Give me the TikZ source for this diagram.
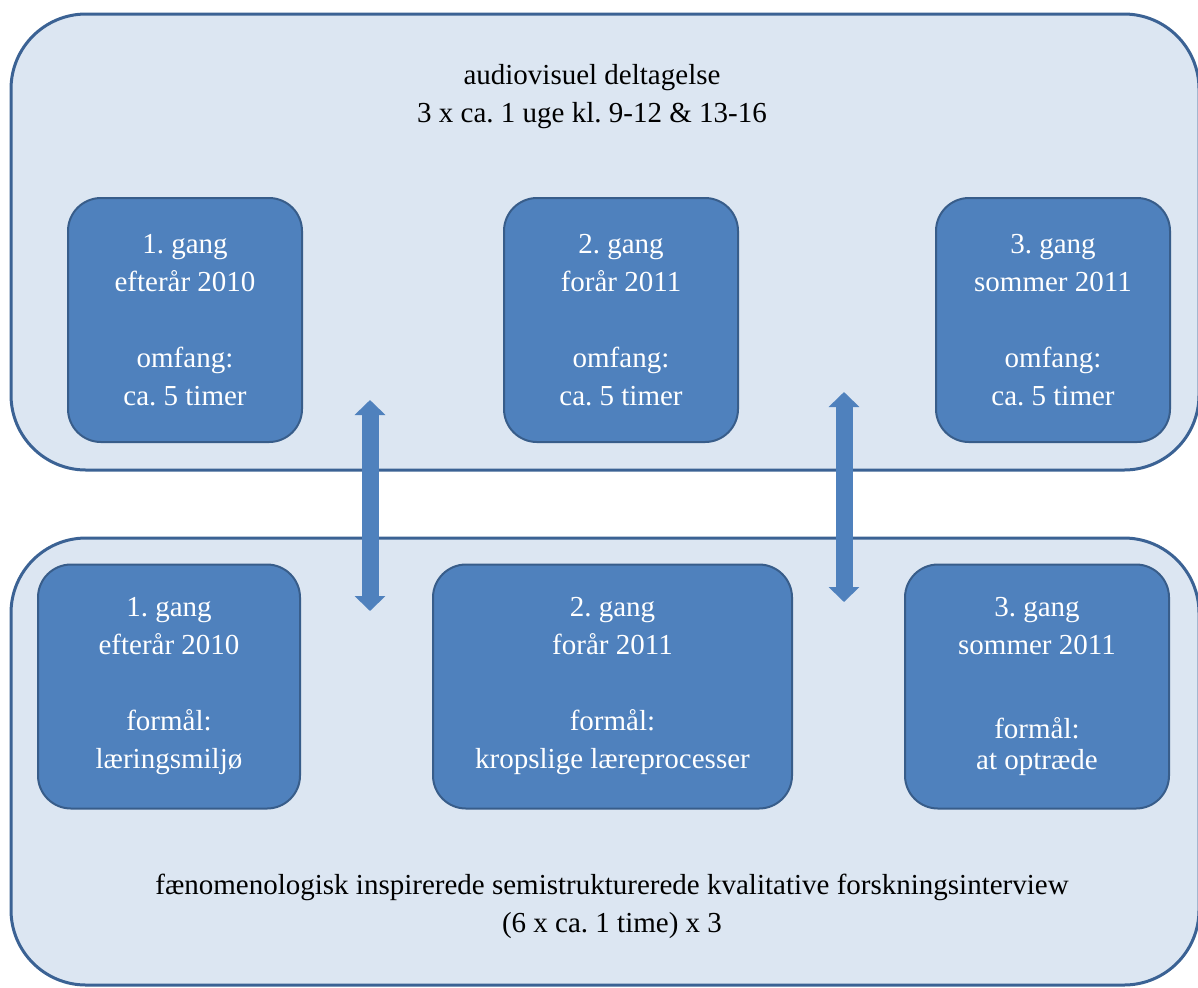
\documentclass[tikz,border=0pt]{standalone}
\usepackage{fontspec}
\setmainfont{Liberation Serif}
\usetikzlibrary{positioning, arrows.meta}
\definecolor{panelfill}{HTML}{DCE6F2}
\definecolor{paneldraw}{HTML}{3B6294}
\definecolor{boxfill}{HTML}{4F81BD}
\definecolor{boxdraw}{HTML}{385D8A}
\frenchspacing

\begin{document}
\begin{tikzpicture}[x=0.5pt, y=-0.5pt, >=latex]
      \tikzstyle{panel} = [rectangle, rounded corners=37.5pt, minimum width=594pt, outer sep=0pt, draw=paneldraw, line width=1.5pt, fill=panelfill]
      \tikzstyle{session} = [rectangle, rounded corners=16.5pt, minimum height=122pt, outer sep=0pt, text centered, align=center, draw=boxdraw, line width=1pt, fill=boxfill, text=white, font=\fontsize{14.5}{19}\selectfont]
      \tikzstyle{caption} = [align=center, font=\fontsize{14.5}{19}\selectfont]
      \tikzstyle{arrow} = [boxfill, line width=8.5pt, {Triangle[length=7.5pt,width=15pt]}-{Triangle[length=7.5pt,width=15pt]}]

      \clip (0,0) rectangle (1198,987);

      \node (obs) [panel, minimum height=228pt] at (605,242) {};
      \node (intv) [panel, minimum height=223.5pt] at (605,761.5) {};

      \node (title) [caption] at (592,97) {audiovisuel deltagelse\\3 x ca. 1 uge kl. 9-12 \& 13-16};

      \node (obs1) [session, minimum width=117pt] at (185,320) {1. gang\\efterår 2010\\[19pt]omfang:\\ca. 5 timer};
      \node (obs2) [session, minimum width=117pt, right=101pt of obs1] {2. gang\\forår 2011\\[19pt]omfang:\\ca. 5 timer};
      \node (obs3) [session, minimum width=117pt, right=99pt of obs2] {3. gang\\sommer 2011\\[19pt]omfang:\\ca. 5 timer};

      \node (int1) [session, minimum width=131pt] at (169,686.5) {1. gang\\efterår 2010\\[19pt]formål:\\læringsmiljø};
      \node (int2) [session, minimum width=179.5pt, right=66.5pt of int1] {2. gang\\forår 2011\\[19pt]formål:\\kropslige læreprocesser};
      \node (int3) [session, minimum width=132pt, right=56.5pt of int2] {3. gang\\sommer 2011\\[23pt]formål:\\[-3.5pt]at optræde};

      \node (method) [caption] at (612,906) {fænomenologisk inspirerede semistrukturerede kvalitative forskningsinterview\\(6 x ca. 1 time) x 3};

      \coordinate (up1) at (370,400);
      \coordinate (down1) at (370,611);
      \coordinate (up2) at (844,392);
      \coordinate (down2) at (844,602);

      \draw [arrow] (up1) -- (down1);
      \draw [arrow] (up2) -- (down2);

    \end{tikzpicture}
\end{document}
